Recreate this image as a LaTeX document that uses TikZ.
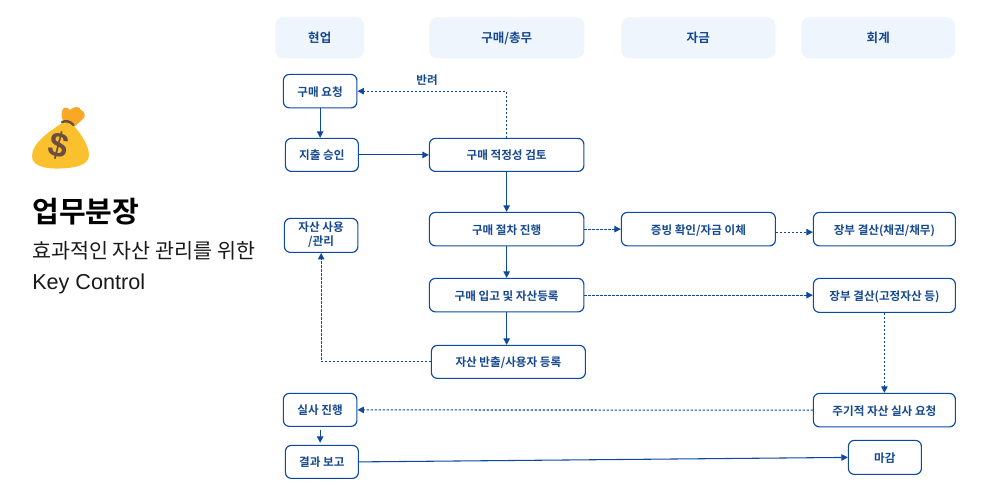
\documentclass[tikz,border=0pt]{standalone}
\usepackage{fontspec}
\setmainfont{Noto Sans CJK KR}
\newfontfamily\krbold{Noto Sans CJK KR Bold}
\newfontfamily\latinsans{Liberation Sans}
\usetikzlibrary{arrows.meta,calc}
\definecolor{navy}{HTML}{0B4A9E}
\definecolor{labelblue}{HTML}{15488F}
\definecolor{headfill}{HTML}{EEF5FD}
\definecolor{bagfill}{HTML}{FBC02D}
\definecolor{tiefill}{HTML}{F9A825}
\definecolor{bagbrown}{HTML}{6D4C41}
\tikzset{
  x=0.75pt,y=-0.75pt,
  base/.style={rounded corners=4.5pt,inner sep=0pt,align=center,font=\krbold\fontsize{8.7}{10.5}\selectfont,text=labelblue},
  head/.style={base,fill=headfill,rounded corners=6pt,font=\krbold\fontsize{9.4}{11}\selectfont,text height=8.6pt,text depth=0.9pt},
  flowbox/.style={base,draw=navy,line width=0.85pt,fill=white,xshift=-0.5pt,yshift=0.5pt,text height=8.2pt,text depth=0.9pt},
  link/.style={draw=navy,line width=0.8pt,-{Triangle[length=4.8pt,width=4.8pt]}},
  dotlink/.style={link,dash pattern=on 1.7pt off 1.3pt},
}
\newcommand{\bx}[6]{\node[#1,minimum width=#4*0.75pt-#2*0.75pt,minimum height=#5*0.75pt-#3*0.75pt,anchor=north west] (#6) at (#2,#3)}
\begin{document}
\begin{tikzpicture}
\useasboundingbox (0,0) rectangle (986,485);
% money bag
\fill[tiefill] (62,112) .. controls (62,107) and (67,106) .. (70,110) .. controls (74,106) and (80,106) .. (81,110) .. controls (85,112) and (86,116) .. (83,119) -- (74,127) -- (64,123) .. controls (62,118) and (61,116) .. (62,112) -- cycle;
\fill[bagfill] (62,123) .. controls (52,130) and (32,142) .. (32,156) .. controls (32,166) and (45,169) .. (60,168.5) .. controls (76,168) and (89,165) .. (89,155) .. controls (89,144) and (78,130) .. (72,124) -- cycle;
\draw[bagbrown,line width=1.8pt,line cap=round] (62,122) .. controls (66,120.5) and (70,121) .. (73.5,125);
\node[rotate=-14,text=bagbrown,font=\latinsans\bfseries\fontsize{26}{26}\selectfont,inner sep=0pt] (dollar) at (59,146) {\$};
% left texts
\node[anchor=west,inner sep=0pt,font=\krbold\fontsize{21.8}{24}\selectfont,text=black] (title) at (32,212) {업무분장};
\node[anchor=west,inner sep=0pt,font=\fontsize{15.5}{18}\selectfont,text=black!90] (sub1) at (32,250.5) {효과적인 자산 관리를 위한};
\node[anchor=west,inner sep=0pt,font=\latinsans\fontsize{16.2}{18}\selectfont,text=black!90] (sub2) at (32,283.5) {Key Control};
% headers
\bx{head}{275}{17}{364}{58}{h1} {현업};
\bx{head}{429}{17}{584}{58}{h2} {구매/총무};
\bx{head}{621}{17}{775}{58}{h3} {자금};
\bx{head}{801}{17}{955}{58}{h4} {회계};
% boxes
\bx{flowbox}{283.5}{74.5}{357}{108}{req} {구매 요청};
\bx{flowbox}{285.5}{138.5}{358.5}{171.5}{appr} {지출 승인};
\bx{flowbox}{429.5}{138.5}{584}{171.5}{review} {구매 적정성 검토};
\bx{flowbox}{429.5}{212.5}{584}{246}{proc} {구매 절차 진행};
\bx{flowbox}{621.5}{212.5}{775.5}{246}{evid} {증빙 확인/자금 이체};
\bx{flowbox}{813.5}{212.5}{955.5}{246}{led1} {장부 결산(채권/채무)};
\bx{flowbox,text height=,text depth=,align=none}{284.5}{218.5}{358}{252.5}{use} {\raisebox{-0.7pt}{\begin{tabular}{@{}c@{}}자산 사용\\/관리\end{tabular}}};
\bx{flowbox}{429.5}{278.5}{584}{312}{recv} {구매 입고 및 자산등록};
\bx{flowbox}{813.5}{278.5}{955.5}{312.5}{led2} {장부 결산(고정자산 등)};
\bx{flowbox}{431.5}{345.5}{585.5}{378.5}{out} {자산 반출/사용자 등록};
\bx{flowbox}{283.5}{393.5}{357}{426.5}{audit} {실사 진행};
\bx{flowbox}{813.5}{393.5}{955.5}{427}{periodic} {주기적 자산 실사 요청};
\bx{flowbox}{285.5}{445.5}{358.5}{478.5}{rep} {결과 보고};
\bx{flowbox}{848.5}{440.5}{921.5}{474.5}{close} {마감};
% connectors
\draw[link] (req.south) -- (req.south |- appr.north);
\draw[link] (appr.east) -- (review.west);
\draw[dotlink] (review.north) |- (req.east);
\node[base,anchor=center,fill=none] (back) at (427,80.5) {반려};
\draw[link] (review.south) -- (review.south |- proc.north);
\draw[dotlink] (proc.east) -- (evid.west);
\draw[dotlink] ($(evid.east)+(0,3)$) -- ($(led1.west)+(0,3)$);
\draw[link] (proc.south) -- (proc.south |- recv.north);
\draw[dotlink] (recv.east) -- (recv.east -| led2.west);
\draw[link] (recv.south) -- (recv.south |- out.north);
\draw[dotlink] (out.west) -| (use.south);
\draw[dotlink] (led2.south) -- (led2.south |- periodic.north);
\draw[dotlink] (periodic.west) -- (audit.east);
\draw[link,shorten <=2pt,shorten >=1.5pt] (audit.south) -- (audit.south |- rep.north);
\draw[link] (rep.east) -- (close.west);
\end{tikzpicture}
\end{document}
